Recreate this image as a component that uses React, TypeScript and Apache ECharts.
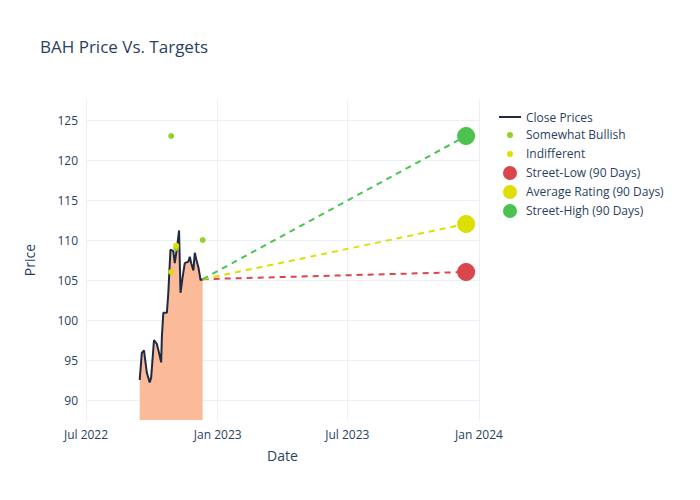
import React, { useEffect, useRef } from 'react';
import * as echarts from 'echarts';

const closeDates = [
  '2022-09-14', '2022-09-17', '2022-09-20', '2022-09-24', '2022-09-28', '2022-09-30',
  '2022-10-04', '2022-10-08', '2022-10-11', '2022-10-14', '2022-10-15', '2022-10-17',
  '2022-10-22', '2022-10-24', '2022-10-27', '2022-10-31', '2022-11-02', '2022-11-05',
  '2022-11-07', '2022-11-08', '2022-11-10', '2022-11-13', '2022-11-16', '2022-11-21',
  '2022-11-23', '2022-11-25', '2022-11-28', '2022-11-30', '2022-12-02', '2022-12-05',
  '2022-12-08', '2022-12-11',
];
const closePrices = [
  92.5, 95.9, 96.2, 93.4, 92.2, 92.8,
  97.5, 97.0, 95.9, 94.7, 97.9, 100.9,
  100.9, 103.4, 108.8, 108.6, 107.1, 109.0,
  110.4, 111.2, 103.4, 105.4, 107.1, 107.3,
  107.9, 107.1, 106.2, 108.4, 107.6, 106.6,
  105.0, 105.1,
];
const somewhatBullish: [string, number][] = [['2022-10-28', 123], ['2022-11-04', 109], ['2022-12-11', 110]];
const indifferent: [string, number][] = [['2022-10-28', 106], ['2022-11-04', 109.3]];
const targetDate = '2023-12-14';
const streetLow = 106;
const avgRating = 112;
const streetHigh = 123;
const yTicks = [90, 95, 100, 105, 110, 115, 120, 125];
const xTicks = ['2022-07-01', '2023-01-01', '2023-07-01', '2024-01-01'];
const xTickLabels = ['Jul 2022', 'Jan 2023', 'Jul 2023', 'Jan 2024'];

const ts = (d: string) => Date.parse(d + 'T00:00:00Z');
const lastDate = closeDates[closeDates.length - 1];
const lastPrice = closePrices[closePrices.length - 1];

const smallDot = 'path://M0,0L0.01,0M22,14L22.01,14M14,7A3,3 0 1,0 8,7A3,3 0 1,0 14,7Z';
const bigDot = 'path://M0,0L0.01,0M22,14L22.01,14M18,7A7,7 0 1,0 4,7A7,7 0 1,0 18,7Z';

const App: React.FC = () => {
  const ref = useRef<HTMLDivElement>(null);

  useEffect(() => {
    if (!ref.current) return;
    const chart = echarts.init(ref.current, undefined, { renderer: 'svg' });
    const font = 'Open Sans, sans-serif';
    const txt = '#2a3f5f';
    const red = '#d9474c', yel = '#dede00', grn = '#4cc250';
    const xTickVals = xTicks.map(ts);

    const targetLine = (name: string, value: number, color: string) => ({
      name, type: 'line', data: [[ts(lastDate), lastPrice], [ts(targetDate), value]],
      symbol: 'none', lineStyle: { color, width: 2, type: [6, 5] }, itemStyle: { color }, z: 3,
    });
    const targetDot = (name: string, value: number, color: string) => ({
      name, type: 'scatter', data: [[ts(targetDate), value]], symbolSize: 18,
      itemStyle: { color, opacity: 1 }, z: 5,
    });

    const option: any = {
      animation: false,
      textStyle: { fontFamily: font },
      title: {
        text: 'BAH Price Vs. Targets', left: 35, top: 33,
        textStyle: { fontSize: 17, fontWeight: 'normal', color: txt, fontFamily: font },
      },
      legend: {
        orient: 'vertical', left: 494, top: 106, itemGap: 5, itemWidth: 22, itemHeight: 14,
        textStyle: { color: txt, fontSize: 12, fontFamily: font },
        data: [
          { name: 'Close Prices', icon: 'path://M0,6 L22,6 L22,8 L0,8 Z', itemStyle: { color: '#1f2a44' } },
          { name: 'Somewhat Bullish', icon: smallDot, itemStyle: { color: '#8fd32a' } },
          { name: 'Indifferent', icon: smallDot, itemStyle: { color: yel } },
          { name: 'Street-Low (90 Days)', icon: bigDot, itemStyle: { color: red } },
          { name: 'Average Rating (90 Days)', icon: bigDot, itemStyle: { color: yel } },
          { name: 'Street-High (90 Days)', icon: bigDot, itemStyle: { color: grn } },
        ],
      },
      grid: { left: 86, right: 221, top: 100, bottom: 80 },
      xAxis: {
        type: 'value', min: xTickVals[0], max: xTickVals[3],
        name: 'Date', nameLocation: 'middle', nameGap: 28,
        nameTextStyle: { color: txt, fontSize: 14, fontFamily: font },
        axisLine: { show: false },
        axisTick: { show: false, customValues: xTickVals },
        axisLabel: {
          color: txt, fontSize: 12, customValues: xTickVals,
          formatter: (v: number) => xTickLabels[xTickVals.indexOf(v)] ?? '',
        },
        splitLine: { show: false },
      },
      yAxis: {
        type: 'value', min: 87.5, max: 127.5,
        name: 'Price', nameLocation: 'middle', nameGap: 50,
        nameTextStyle: { color: txt, fontSize: 14, fontFamily: font },
        axisLine: { show: false },
        axisTick: { show: false, customValues: yTicks },
        axisLabel: { color: txt, fontSize: 12, customValues: yTicks },
        splitLine: { show: false },
      },
      series: [
        {
          name: 'Close Prices', type: 'line', data: closeDates.map((d, i) => [ts(d), closePrices[i]]),
          symbol: 'none', lineStyle: { color: '#1f2a44', width: 2 }, itemStyle: { color: '#1f2a44' },
          areaStyle: { color: '#fcbb98', opacity: 1, origin: 'start' }, z: 2,
          markLine: {
            silent: true, symbol: 'none', label: { show: false }, z: 0,
            lineStyle: { color: '#ebf0f8', type: 'solid', width: 1 },
            data: [
              ...yTicks.map((v) => ({ yAxis: v })),
              ...xTickVals.map((v) => ({ xAxis: v })),
            ],
          },
        },
        { name: 'Somewhat Bullish', type: 'scatter', data: somewhatBullish.map(([d, v]) => [ts(d), v]), symbolSize: 6, itemStyle: { color: '#8fd32a', opacity: 1 }, z: 6 },
        { name: 'Indifferent', type: 'scatter', data: indifferent.map(([d, v]) => [ts(d), v]), symbolSize: 6, itemStyle: { color: yel, opacity: 1 }, z: 6 },
        targetLine('Street-Low (90 Days)', streetLow, red),
        targetLine('Average Rating (90 Days)', avgRating, yel),
        targetLine('Street-High (90 Days)', streetHigh, grn),
        targetDot('Street-Low (90 Days)', streetLow, red),
        targetDot('Average Rating (90 Days)', avgRating, yel),
        targetDot('Street-High (90 Days)', streetHigh, grn),
      ],
    };
    chart.setOption(option);
    return () => chart.dispose();
  }, []);

  return <div ref={ref} style={{ width: 700, height: 500, margin: -8 }} />;
};

export default App;
